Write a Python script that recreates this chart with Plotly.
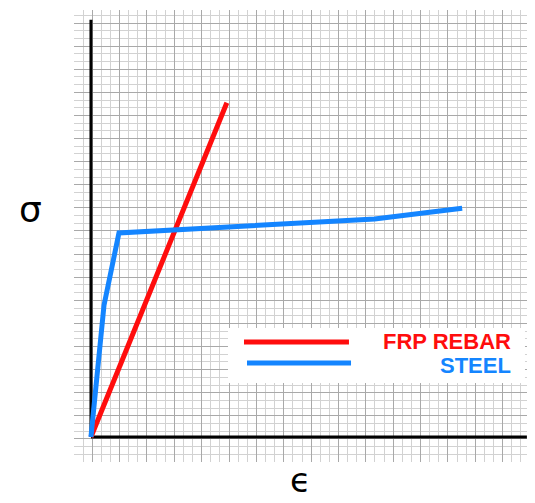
import plotly.graph_objects as go

# Data (arbitrary strain / stress units)
frp_strain = [0.0, 14.9]
frp_stress = [0.0, 43.4]
steel_strain = [0.0, 1.43, 3.07, 31.1, 40.7]
steel_stress = [0.0, 17.1, 26.5, 28.3, 29.7]
series_names = ["FRP REBAR", "STEEL"]
series_colors = ["#ff0d0d", "#1485ff"]

fig = go.Figure()
fig.add_trace(go.Scatter(x=frp_strain, y=frp_stress, mode="lines",
                         line=dict(color=series_colors[0], width=5), name=series_names[0]))
fig.add_trace(go.Scatter(x=steel_strain, y=steel_stress, mode="lines",
                         line=dict(color=series_colors[1], width=5), name=series_names[1]))

# black axes
fig.add_shape(type="line", xref="x", yref="y", x0=0, y0=0, x1=0, y1=54.2,
              line=dict(color="black", width=3), layer="between")
fig.add_shape(type="line", xref="x", yref="y", x0=0, y0=0, x1=47.8, y1=0,
              line=dict(color="black", width=3), layer="between")

# legend box
fig.add_shape(type="rect", xref="paper", yref="paper", x0=0.3377, x1=0.989, y0=0.1748, y1=0.2965,
              fillcolor="white", line=dict(width=0), layer="above")
fig.add_shape(type="line", xref="paper", yref="paper", x0=0.3728, x1=0.603, y0=0.2655, y1=0.2655,
              line=dict(color=series_colors[0], width=5))
fig.add_shape(type="line", xref="paper", yref="paper", x0=0.3794, x1=0.6075, y0=0.219, y1=0.219,
              line=dict(color=series_colors[1], width=5))
fig.add_annotation(x=0.9605, y=0.2665, xref="paper", yref="paper", xanchor="right", yanchor="middle",
                   text="<b>" + series_names[0] + "</b>", showarrow=False, borderpad=0,
                   font=dict(family="Liberation Sans, Arial", size=22, color=series_colors[0]))
fig.add_annotation(x=0.9605, y=0.2136, xref="paper", yref="paper", xanchor="right", yanchor="middle",
                   text="<b>" + series_names[1] + "</b>", showarrow=False, borderpad=0,
                   font=dict(family="Liberation Sans, Arial", size=22, color=series_colors[1]))

# axis symbols
fig.add_annotation(x=-0.125, y=0.558, xref="paper", yref="paper", text="σ", showarrow=False,
                   font=dict(family="DejaVu Sans", size=36, color="black"))
fig.add_annotation(x=0.496, y=-0.0863, xref="paper", yref="paper", yanchor="bottom", text="ϵ",
                   showarrow=False, borderpad=0,
                   font=dict(family="DejaVu Sans", size=34, color="black"))

fig.update_xaxes(range=[-1.86, 48.14], showticklabels=False, ticks="", zeroline=False,
                 showgrid=True, tick0=-1.86 + 2, dtick=3, gridcolor="#a9a9a9", gridwidth=1,
                 minor=dict(dtick=1, tick0=-1.86, showgrid=True, gridcolor="#d2d2d2", gridwidth=1))
fig.update_yaxes(range=[-3.25, 55.45], showticklabels=False, ticks="", zeroline=False,
                 showgrid=True, tick0=-3.25, dtick=3, gridcolor="#a9a9a9", gridwidth=1,
                 minor=dict(dtick=1, tick0=-3.25, showgrid=True, gridcolor="#d2d2d2", gridwidth=1))

fig.update_layout(width=535, height=503, margin=dict(l=66, r=13, t=2, b=49),
                  paper_bgcolor="white", plot_bgcolor="white", showlegend=False)

fig.write_html("out.html")
